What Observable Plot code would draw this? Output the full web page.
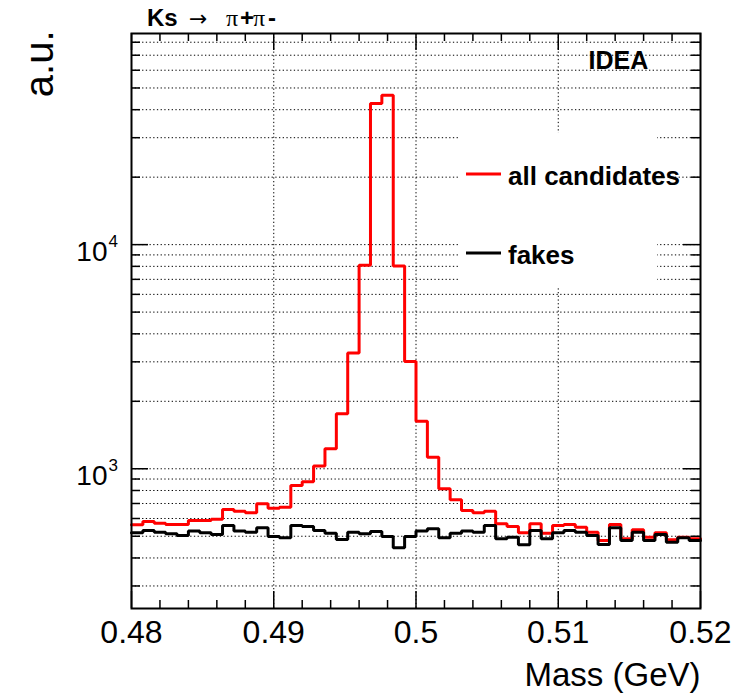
<!DOCTYPE html>
<html><head><meta charset="utf-8">
<script src="https://cdn.jsdelivr.net/npm/d3@7"></script>
<script src="https://cdn.jsdelivr.net/npm/@observablehq/plot@0.6"></script>
<style>html,body{margin:0;padding:0;background:#fff;} svg{display:block}</style>
</head><body><div id="chart"></div>
<script>
// ---- data (50 bins from 0.48 to 0.52 GeV) ----
const binLow = 0.48;
const binHigh = 0.52;
const nBins = 50;
const allCandidates = [562, 582, 571, 564, 564, 588, 588, 596, 658, 647,
  636, 698, 667, 674, 842, 875, 1030, 1228, 1760, 3281,
  8085, 42600, 46400, 8030, 3013, 1631, 1127, 814, 727, 651,
  636, 647, 568, 553, 518, 568, 516, 558, 564, 549,
  521, 479, 564, 487, 534, 495, 518, 482, 495, 487];
const fakes = [518, 530, 521, 513, 504, 527, 518, 509, 558, 527,
  521, 545, 499, 492, 558, 553, 530, 516, 483, 521,
  513, 525, 499, 444, 499, 527, 540, 492, 516, 527,
  521, 558, 487, 495, 458, 530, 487, 518, 530, 521,
  504, 459, 545, 479, 521, 479, 509, 470, 492, 479];
const xMajorTicks = [0.48, 0.49, 0.5, 0.51, 0.52];
const xTickLabels = ["0.48", "0.49", "0.5", "0.51", "0.52"];
const xMinorTicks = [0.482, 0.484, 0.486, 0.488, 0.492, 0.494, 0.496, 0.498,
  0.502, 0.504, 0.506, 0.508, 0.512, 0.514, 0.516, 0.518];
const xGrid = [0.49, 0.5, 0.51];
const yMajorTicks = [1000, 10000];
const yTickExponents = ["3", "4"];
const yMinorTicks = [300, 400, 500, 600, 700, 800, 900,
  2000, 3000, 4000, 5000, 6000, 7000, 8000, 9000,
  20000, 30000, 40000, 50000, 60000, 70000, 80000];
const yDomain = [238, 87500];
const seriesNames = ["all candidates", "fakes"];
const seriesColors = ["#ff0000", "#000000"];

// ---- build step points ----
const binW = (binHigh - binLow) / nBins;
function steps(vals) {
  const pts = vals.map((v, i) => ({x: binLow + i * binW, y: v}));
  pts.push({x: binHigh, y: vals[vals.length - 1]});
  return pts;
}

const W = 751, H = 693, mL = 131, mR = 51, mT = 33, mB = 85;
const FW = W - mL - mR, FH = H - mT - mB;
const dotted = {stroke: "#000", strokeWidth: 1, strokeDasharray: "1.3,2.4"};
const font = "'Liberation Sans', Arial, Helvetica, sans-serif";
const serif = "'Liberation Serif', 'DejaVu Serif', serif";

const plot = Plot.plot({
  width: W, height: H,
  marginLeft: mL, marginRight: mR, marginTop: mT, marginBottom: mB,
  style: {fontFamily: font, background: "white", color: "black"},
  x: {domain: [binLow, binHigh], axis: null},
  y: {type: "log", domain: yDomain, axis: null},
  marks: [
    // grid
    Plot.ruleY([...yMinorTicks, ...yMajorTicks], {y: d => d, ...dotted}),
    Plot.ruleX(xGrid, {x: d => d, ...dotted}),
    // histograms
    Plot.line(steps(allCandidates), {x: "x", y: "y", curve: "step-after", stroke: seriesColors[0], strokeWidth: 3, strokeLinejoin: "miter"}),
    Plot.line(steps(fakes), {x: "x", y: "y", curve: "step-after", stroke: seriesColors[1], strokeWidth: 3, strokeLinejoin: "miter"}),
    // ticks (inside the frame)
    Plot.tickY(yMinorTicks, {y: d => d, insetRight: FW - 9, stroke: "#000", strokeWidth: 1.5}),
    Plot.tickY(yMinorTicks, {y: d => d, insetLeft: FW - 9, stroke: "#000", strokeWidth: 1.5}),
    Plot.tickY(yMajorTicks, {y: d => d, insetRight: FW - 17, stroke: "#000", strokeWidth: 1.5}),
    Plot.tickY(yMajorTicks, {y: d => d, insetLeft: FW - 17, stroke: "#000", strokeWidth: 1.5}),
    Plot.tickX(xMinorTicks, {x: d => d, insetTop: FH - 8, stroke: "#000", strokeWidth: 1.5}),
    Plot.tickX(xMinorTicks, {x: d => d, insetBottom: FH - 8, stroke: "#000", strokeWidth: 1.5}),
    Plot.tickX(xMajorTicks, {x: d => d, insetTop: FH - 17, stroke: "#000", strokeWidth: 1.5}),
    Plot.tickX(xMajorTicks, {x: d => d, insetBottom: FH - 17, stroke: "#000", strokeWidth: 1.5}),
    Plot.frame({stroke: "#000", strokeWidth: 2}),
    // tick labels
    Plot.text(xMajorTicks, {x: d => d, text: (d, i) => xTickLabels[i], frameAnchor: "bottom", dy: 34, lineAnchor: "bottom", fontSize: 32, fill: "#000"}),
    Plot.text(yMajorTicks, {y: d => d, text: () => "10", frameAnchor: "left", dx: -24, dy: 16, textAnchor: "end", lineAnchor: "bottom", fontSize: 28, fill: "#000"}),
    Plot.text(yMajorTicks, {y: d => d, text: (d, i) => yTickExponents[i], frameAnchor: "left", dx: -23, dy: 2, textAnchor: "start", lineAnchor: "bottom", fontSize: 17, fill: "#000"}),
    // axis titles
    Plot.text(["Mass (GeV)"], {frameAnchor: "bottom-right", dy: 77, dx: 0, textAnchor: "end", lineAnchor: "bottom", fontSize: 33, fill: "#000"}),
    Plot.text(["a.u."], {frameAnchor: "top-left", dx: -79, dy: -3, rotate: -90, textAnchor: "end", lineAnchor: "bottom", fontSize: 40, fill: "#000"}),
    Plot.text(["IDEA"], {frameAnchor: "top-left", dx: 588 - mL, dy: 68 - mT, textAnchor: "start", lineAnchor: "bottom", fontSize: 25, fontWeight: "bold", fill: "#000"})
  ]
});

// title with mixed fonts
const svg = d3.select(plot);
const t = svg.append("text").attr("y", 26).attr("font-size", 24).attr("fill", "#000")
  .attr("font-family", font).attr("text-anchor", "start");
t.append("tspan").attr("x", 147).attr("font-weight", "bold").text("Ks");
t.append("tspan").attr("x", 189).attr("font-family", "'DejaVu Sans', sans-serif").attr("font-size", 22).text("→");
t.append("tspan").attr("x", 226).attr("font-family", serif).text("π");
t.append("tspan").attr("x", 240).attr("font-weight", "bold").text("+");
t.append("tspan").attr("x", 253).attr("font-family", serif).text("π");
t.append("tspan").attr("x", 268).attr("font-weight", "bold").text("-");

// legend
const lg = svg.append("g").attr("font-family", font).attr("text-anchor", "start");
lg.append("rect").attr("x", 458).attr("y", 133).attr("width", 199).attr("height", 154).attr("fill", "white");
const legendY = [174, 253];
seriesNames.forEach((name, i) => {
  lg.append("line").attr("x1", 466).attr("x2", 501).attr("y1", legendY[i]).attr("y2", legendY[i])
    .attr("stroke", seriesColors[i]).attr("stroke-width", 3);
  lg.append("text").attr("x", 508).attr("y", legendY[i] + 11).attr("font-size", 26).attr("font-weight", "bold")
    .attr("fill", "#000").attr("text-anchor", "start").text(name);
});

document.getElementById("chart").appendChild(plot);
</script>
</body></html>
